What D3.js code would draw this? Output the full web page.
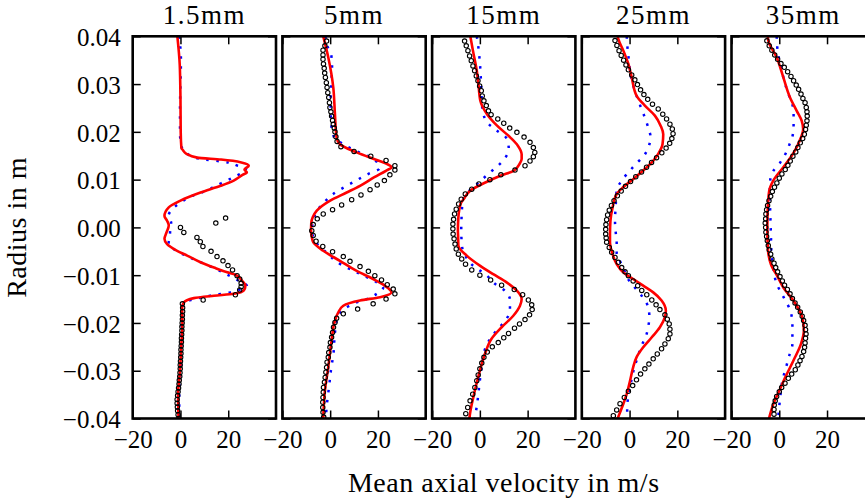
<!DOCTYPE html>
<html>
<head>
<meta charset="utf-8">
<script src="https://cdn.jsdelivr.net/npm/d3@7"></script>
<style>
  html, body { margin: 0; padding: 0; background: #ffffff; overflow: hidden; }
  svg { display: block; }
</style>
</head>
<body>
<svg id="chart" width="865" height="502"></svg>
<script>
// ---------------- DATA (radius in mm, velocity in m/s) ----------------
const panelTitles = ["1.5mm", "5mm", "15mm", "25mm", "35mm"];
const xTickValues = [-20, 0, 20];
const yTickValues = [0.04, 0.03, 0.02, 0.01, 0.00, -0.01, -0.02, -0.03, -0.04];
const xDomain = [-20, 40];
const yDomain = [-0.04, 0.04];
const MM = 0.001; // radius values below are read in millimetres

// Panel 1.5mm
const exp_1p5 = [[1.96,18.9],[0.9,14.8],[0,0],[-1.05,1.4],[-2.1,6.9],[-3.0,8.3],[-4.0,9.4],[-5.0,12.8],[-6.1,15.3],[-7.0,17.8],[-8.0,19.9],[-8.9,21.8],[-10.1,23.7],[-10.8,24.8],[-11.7,25.4],[-12.4,25.4],[-13.1,24.8],[-14.1,23.0],[-15.2,9.5],
  [-16.0,0.8],[-16.8,0.9],[-17.6,0.9],[-18.4,0.8],[-19.2,0.8],[-20.0,0.7],[-20.8,0.6],[-21.6,0.6],[-22.4,0.5],[-23.2,0.4],[-24.0,0.4],[-24.8,0.3],[-25.6,0.2],[-26.4,0.2],[-27.2,0.1],[-28.0,0.0],[-28.8,-0.1],[-29.6,-0.1],[-30.4,-0.2],[-31.2,-0.3],[-32.0,-0.5],[-32.8,-0.6],[-33.6,-0.8],[-34.4,-1.0],[-35.2,-1.2],[-36.0,-1.4],[-36.8,-1.4],[-37.6,-1.3],[-38.4,-1.2],[-39.2,-1.0],[-40.0,-0.7]];
const les_1p5 = [[40,-1.3],[34,-0.3],[27,0],[20,0.1],[16.6,0.4],[16.2,1.0],[15.4,2.5],[14.6,7.0],[14.2,17.0],[13.6,25.5],[12.9,28.6],[12.1,26.8],[11.5,27.8],[11.0,26.0],[9.8,22.3],[8.7,16.8],[7.3,8.4],[5.6,0],[4.2,-4.9],[2.4,-6.7],[1.4,-5.6],[0.4,-4.9],[-1.0,-5.8],[-2.4,-6.7],[-3.5,-5.6],[-4.9,-1.4],[-5.9,2.8],[-7.3,8.4],[-8.4,14.0],[-9.4,19.6],[-9.9,23.0],[-11.2,25.8],[-12.2,27.2],[-13.2,26.5],[-13.9,22.3],[-14.3,14.0],[-14.8,5.6],[-15.7,1.4],[-16.7,0.7],[-20,0.8],[-25,0.3],[-30,-0.2],[-35,-1.0],[-40,-0.8]];
const rans_1p5 = [[40,-0.5],[35,0.2],[30,0],[25,-0.2],[20,-0.2],[17,0.3],[16.2,1.5],[15.2,3.5],[14.4,7.7],[13.6,19.8],[12.9,24.0],[12.4,27.5],[11.5,26.0],[10.8,23.4],[9.1,16.5],[7.3,8.8],[6.6,4.9],[5.0,-0.5],[3.5,-4.0],[2.4,-5.0],[1.0,-3.9],[-0.7,-4.3],[-2.0,-4.5],[-3.5,-5.0],[-4.3,-3.5],[-5.5,0.5],[-7.0,7.0],[-8.5,14.0],[-10.0,20.0],[-11.2,24.5],[-12.2,27.8],[-13.0,25.0],[-13.6,20.8],[-14.3,12.4],[-15.2,4.2],[-16.2,1.0],[-20,0.5],[-25,0.3],[-30,0],[-35,-0.5],[-40,-0.5]];

// Panel 5mm
const exp_5 = [[39.0,-1.5],[38.0,-2.2],[37.1,-3.0],[36.1,-3.0],[35.2,-3.0],[34.2,-2.8],[33.3,-2.5],[32.3,-2.3],[31.4,-2.0],[30.3,-1.6],[29.3,-1.3],[28.2,-1.0],[27.2,-0.6],[26.1,-0.3],[25.1,-0.1],[24.2,0.3],[23.3,0.6],[22.4,1.0],[21.6,1.3],[20.8,1.7],[20.0,2.0],[19.0,2.4],[18.0,2.9],[16.9,4.5],[15.9,10.0],[14.9,17.0],[14.0,23.4],[12.9,27.1],[12.0,27.1],[11.0,25.0],[9.8,22.7],[8.9,19.7],[7.9,16.7],[6.8,12.9],[5.8,9.0],[4.7,4.8],[3.7,1.0],[2.8,-2.9],[1.8,-5.4],[0.6,-7.1],[-0.7,-7.7],[-1.7,-7.1],[-2.9,-5.9],[-4.0,-3.1],[-5.1,1.0],[-6.1,5.5],[-7.1,8.3],[-8.2,12.5],[-9.2,16.0],[-10.1,18.7],[-11.0,21.5],[-12.0,23.9],[-12.9,26.4],[-13.9,27.1],[-15.0,23.4],[-16.0,18.0],[-17.1,11.5],[-18.1,5.5],[-19.0,2.7],[-19.9,2.0],[-20.9,1.4],[-22.0,1.0],[-23.0,0.6],[-24.1,0.1],[-25.1,-0.1],[-26.2,-0.6],[-27.2,-0.8],[-28.2,-1.3],[-29.3,-1.5],[-30.3,-1.8],[-31.4,-2.1],[-32.4,-2.4],[-33.5,-2.8],[-34.5,-2.9],[-35.6,-3.0],[-36.6,-3.1],[-37.7,-3.1],[-38.7,-3.0],[-39.7,-2.7]];
const les_5 = [[40,-2.9],[35.6,-0.8],[29.3,1.3],[23.7,2.0],[18.8,2.7],[17.4,4.1],[15.7,11.1],[14.1,19.5],[13.3,23.7],[12.6,25.7],[11.9,23.5],[10.5,18.5],[8.7,12.5],[7.3,6.9],[5.6,0],[3.5,-5.6],[2.1,-7.3],[1.0,-7.9],[-0.7,-8.0],[-2.0,-7.7],[-3.1,-7.1],[-4.9,-2.9],[-7.0,4.1],[-9.1,11.1],[-10.8,18.0],[-12.2,22.9],[-13.6,25.7],[-14.6,20.9],[-15.3,12.5],[-16.4,5.5],[-17.8,3.4],[-19.5,2.0],[-23.7,0.6],[-29.3,-0.8],[-34.2,-2.2],[-40,-2.9]];
const rans_5 = [[40,-2.0],[38.0,-1.2],[35.9,0.5],[33.8,0.8],[31.4,0.6],[26.5,0.2],[22.7,0.3],[19.0,1.5],[17.0,6.9],[15.5,13.0],[14.1,18.8],[12.3,20.6],[11.3,16.4],[9.2,8.7],[7.0,1.3],[5.4,-2.2],[2.8,-6.2],[-0.7,-7.6],[-3.5,-5.4],[-5.5,-1.0],[-7.3,3.0],[-9.4,11.1],[-11.5,19.5],[-12.6,22.2],[-13.9,19.5],[-15.0,15.3],[-15.7,11.1],[-17.0,6.0],[-19.0,3.0],[-22.0,2.0],[-26.8,1.3],[-28.9,0.6],[-33.1,-0.4],[-37.7,-1.5],[-40,-1.8]];

// Panel 15mm
const exp_15 = [[39.0,-6.4],[38.0,-5.7],[37.0,-5.0],[35.9,-4.3],[34.9,-3.6],[33.8,-2.9],[32.8,-2.2],[31.7,-1.5],[30.7,-0.8],[29.6,-0.1],[28.6,0.6],[27.5,1.0],[26.5,1.7],[25.5,2.7],[24.4,3.6],[23.6,4.7],[22.7,7.5],[21.8,10.0],[20.8,12.5],[19.9,15.5],[18.9,18.5],[17.8,21.0],[16.7,22.4],[15.7,23.0],[14.8,22.4],[13.9,21.0],[12.9,18.9],[12.0,14.7],[11.0,8.8],[10.0,4.2],[9.1,-0.4],[8.0,-3.4],[7.0,-6.1],[5.9,-7.8],[4.9,-8.9],[3.8,-9.9],[2.8,-10.6],[1.7,-11.0],[0.7,-11.3],[-0.3,-11.3],[-1.4,-11.2],[-2.4,-10.8],[-3.5,-10.4],[-4.5,-9.9],[-5.6,-9.0],[-6.6,-7.6],[-7.7,-6.0],[-8.9,-3.4],[-10.0,0],[-11.0,4.5],[-12.1,9.1],[-13.0,14.4],[-14.1,17.9],[-15.2,20.3],[-16.2,21.7],[-17.2,21.9],[-18.3,20.8],[-19.3,18.9],[-20.2,16.6],[-21.1,14.5],[-22.2,12.0],[-23.1,10.0],[-24.1,7.7],[-25.0,5.2],[-26.1,3.1],[-27.2,1.7],[-28.4,0.8],[-29.6,0],[-30.9,-0.7],[-32.1,-1.3],[-33.5,-2.1],[-34.9,-3.0],[-36.3,-4.1],[-37.7,-5.1],[-39.0,-5.9]];
const les_15 = [[40,-4.0],[37.0,-2.9],[32.8,-1.3],[30,-0.6],[26.5,0.2],[23.7,3.0],[21.3,7.2],[18.8,12.8],[17.1,15.9],[15.3,17.5],[14.3,17.5],[13.2,16.5],[11.9,14.3],[10.8,8.6],[9.4,2.3],[7.7,-4.0],[5.9,-6.8],[4.9,-8.1],[2.1,-9.0],[-0.7,-9.2],[-2.0,-9.1],[-3.8,-9.0],[-5.9,-5.5],[-8.0,0],[-9.8,5.6],[-11.5,11.2],[-13.2,15.4],[-15.0,17.5],[-16.4,16.8],[-18.5,14.0],[-20.9,9.1],[-23.3,4.9],[-26.5,2.1],[-30,0],[-34.2,-2.1],[-38.3,-3.9],[-40,-4.4]];
const rans_15 = [[40,-1.3],[39.4,-1.1],[34.5,0],[30.3,0.5],[25,1.0],[22,3.0],[20.3,7.0],[18.6,11.2],[16.4,12.1],[14.4,10.4],[12.9,7.6],[11.4,4.0],[9.6,0],[7.0,-5.7],[5.0,-7.3],[2.8,-7.6],[-0.7,-7.8],[-4.2,-7.4],[-6.0,-6.0],[-7.7,-3.6],[-10.1,3.0],[-11.8,6.3],[-13.1,10.1],[-15.2,12.6],[-17.3,12.6],[-19.2,11.1],[-21.0,8.1],[-22.9,4.9],[-25.0,2.5],[-28.6,1.0],[-32,0],[-35.6,-0.8],[-39.7,-2.0],[-40,-2.1]];

// Panel 25mm
const exp_25 = [[39.1,-6.1],[38.1,-5.3],[37.0,-4.4],[36.0,-3.5],[35.0,-2.5],[34.0,-1.5],[33.0,-0.5],[31.9,0.9],[30.9,2.2],[29.9,3.3],[28.8,4.6],[27.8,6.0],[26.8,7.6],[25.8,9.6],[24.8,12.0],[23.7,13.9],[22.7,15.5],[21.6,16.9],[20.6,17.9],[19.6,18.2],[18.6,17.7],[17.6,16.8],[16.6,15.3],[15.6,13.5],[14.6,11.3],[13.6,9.2],[12.6,7.1],[11.6,5.0],[10.6,2.6],[9.6,0.4],[8.6,-1.7],[7.6,-3.5],[6.6,-5.1],[5.6,-6.5],[4.6,-7.6],[3.6,-8.5],[2.6,-9.2],[1.6,-9.6],[0.6,-9.9],[-0.4,-10.0],[-1.4,-10.0],[-2.2,-9.8],[-3.1,-9.6],[-4.2,-8.5],[-5.2,-7.5],[-6.3,-6.1],[-7.3,-4.7],[-8.4,-3.3],[-9.3,-1.9],[-10.1,-0.5],[-11.2,1.5],[-12.2,3.4],[-13.2,5.1],[-14.1,7.2],[-15.2,9.3],[-16.2,11.1],[-17.2,12.7],[-18.3,14.8],[-19.2,15.8],[-20.2,16.6],[-21.3,16.9],[-22.3,16.9],[-23.3,16.2],[-24.4,14.8],[-25.4,13.4],[-26.5,11.6],[-27.5,9.9],[-28.6,8.1],[-29.6,6.4],[-30.7,4.6],[-31.9,2.9],[-33.1,1.3],[-34.3,-0.5],[-35.6,-2.2],[-36.9,-4.0],[-38.2,-5.4],[-39.4,-6.8]];
const les_25 = [[40,-5.0],[39.4,-4.7],[37.0,-2.6],[34.2,-0.5],[31.4,0.9],[27.6,2.9],[25.5,6.4],[23.4,10.6],[21.3,13.0],[19.5,14.1],[17.4,13.8],[15.4,12.0],[13.6,9.3],[11.9,5.7],[10.1,1.5],[8.4,-2.7],[7.0,-5.4],[4.2,-7.1],[1.4,-8.0],[-1.4,-8.2],[-3.1,-8.2],[-5.6,-7.1],[-7.7,-5.4],[-9.4,-2.7],[-10.8,1.5],[-12.2,5.7],[-13.6,9.9],[-15.3,13.4],[-17.4,15.2],[-18.8,14.8],[-20.9,12.7],[-23.0,9.3],[-25.1,5.7],[-27.2,2.9],[-29.3,1.5],[-32.1,0.2],[-34.9,-1.2],[-36.9,-2.6],[-40,-5.0]];
const rans_25 = [[40,-1.2],[38.4,-1.0],[35.9,-0.5],[31.0,0.8],[27.6,2.9],[25.3,4.6],[23.0,6.4],[20.9,7.8],[18.8,8.8],[16.7,7.8],[15.0,6.0],[13.3,2.7],[11.5,-0.5],[9.8,-3.3],[7.7,-5.4],[4.5,-5.8],[1.4,-6.1],[-1.0,-5.8],[-3.1,-5.4],[-5.4,-5.4],[-7.3,-3.8],[-9.3,-2.0],[-11.2,-0.1],[-12.9,2.7],[-14.6,5.5],[-16.7,7.8],[-18.8,8.3],[-20.8,7.8],[-22.7,6.9],[-24.7,5.1],[-26.8,3.6],[-30.3,1.5],[-33.5,0.2],[-37.7,-1.0],[-40,-1.0]];

// Panel 35mm
const exp_35 = [[39.05,-5.2],[38.0,-4.2],[37.1,-3.1],[36.1,-1.9],[35.2,-0.7],[34.3,0.7],[33.5,2.1],[32.6,3.5],[31.6,4.9],[30.7,6.0],[29.8,7.1],[28.9,8.1],[27.9,9.1],[27.0,9.9],[26.1,10.8],[25.1,11.3],[24.2,11.6],[23.3,11.7],[22.3,11.6],[21.4,11.3],[20.5,11.0],[19.5,10.5],[18.6,9.8],[17.7,8.8],[16.7,7.8],[15.8,6.9],[14.9,5.7],[13.9,4.6],[13.0,3.6],[12.1,2.5],[11.2,1.1],[10.3,0],[9.3,-1.0],[8.4,-2.0],[7.5,-2.9],[6.5,-3.6],[5.6,-4.3],[4.6,-4.9],[3.7,-5.3],[2.8,-5.6],[1.8,-5.7],[0.9,-5.9],[0,-5.7],[-1.0,-5.6],[-1.9,-5.3],[-2.8,-5.0],[-3.8,-4.6],[-4.7,-4.2],[-5.6,-3.6],[-6.6,-3.1],[-7.5,-2.2],[-8.4,-1.5],[-9.3,-0.7],[-10.3,0.3],[-11.2,1.3],[-12.1,2.2],[-13.0,3.4],[-13.9,4.5],[-14.9,5.5],[-15.8,6.6],[-16.7,7.7],[-17.7,8.8],[-18.6,9.6],[-19.5,10.2],[-20.5,10.8],[-21.4,11.0],[-22.3,11.2],[-23.2,11.0],[-24.2,10.8],[-25.1,10.6],[-26.0,10.2],[-27.0,9.5],[-27.9,8.7],[-28.8,7.8],[-29.8,6.7],[-30.7,5.2],[-31.6,3.8],[-32.6,2.4],[-33.5,1.0],[-34.4,0],[-35.4,-1.1],[-36.3,-1.7],[-37.2,-2.1],[-38.1,-2.2],[-39.1,-2.2]];
const les_35 = [[40,-4.8],[39.1,-4.6],[35.6,-1.1],[31.4,1.7],[27.2,4.5],[24.4,7.3],[22.3,9.4],[20.6,10.0],[18.1,8.5],[15.4,5.7],[12.6,1.7],[9.8,-2.5],[7.7,-4.2],[4.2,-4.8],[0,-5.0],[-4.2,-4.8],[-7.7,-3.5],[-10.5,-0.5],[-12.6,1.7],[-15.3,5.9],[-18.8,9.6],[-21.6,10.3],[-24.4,9.1],[-27.9,5.9],[-31.4,2.5],[-34.2,0],[-37.0,-2.5],[-40,-4.3]];
const rans_35 = [[40,-1.1],[39.05,-1.0],[37.0,-0.7],[34.2,0.4],[30.7,2.1],[28.2,3.6],[26.1,5.3],[23.7,6.0],[21.6,6.0],[19.5,5.7],[17.4,4.3],[15.3,2.5],[13.6,0.4],[11.9,-2.4],[9.8,-3.8],[7.0,-4.0],[3.5,-3.8],[-1.4,-3.5],[-4.9,-3.3],[-8.4,-2.6],[-11.9,-1.0],[-14.6,1.8],[-17.4,4.6],[-20.2,5.5],[-24.4,5.5],[-26.8,4.2],[-29.0,3.0],[-32.1,1.3],[-35.6,0.4],[-39.1,-0.3],[-40,-0.4]];

const panelExp  = [exp_1p5, exp_5, exp_15, exp_25, exp_35];
const panelLes  = [les_1p5, les_5, les_15, les_25, les_35];
const panelRans = [rans_1p5, rans_5, rans_15, rans_25, rans_35];

// ---------------- LAYOUT ----------------
const FONT = "Liberation Serif";
const firstLeft = 132.7, panelStep = 149.7, panelW = 143.3;
const plotTop = 36.3, panelH = 382.2;
const tickLen = 8;

const svg = d3.select("#chart");
svg.append("rect").attr("width", 865).attr("height", 502).attr("fill", "#ffffff");

const x = d3.scaleLinear().domain(xDomain).range([0, panelW]);
const y = d3.scaleLinear().domain(yDomain).range([panelH, 0]);
const yFmt = d3.format(".2f");

const line = d3.line()
  .x(d => x(d[1]))
  .y(d => y(d[0] * MM))
  .curve(d3.curveMonotoneY);

svg.append("defs").append("clipPath").attr("id", "clip")
  .append("rect").attr("x", 0).attr("y", 0).attr("width", panelW).attr("height", panelH);

function styleText(sel, size) {
  sel.attr("font-family", FONT).attr("font-size", size).attr("fill", "#000");
}

panelTitles.forEach((title, i) => {
  const g = svg.append("g").attr("transform", `translate(${firstLeft + i * panelStep},${plotTop})`);

  const plot = g.append("g").attr("clip-path", "url(#clip)");

  // dotted blue series
  plot.append("path").datum(panelRans[i])
    .attr("d", line).attr("fill", "none")
    .attr("stroke", "#0000ff").attr("stroke-width", 2.5)
    .attr("stroke-dasharray", "2.5,7.5");

  // solid red series
  plot.append("path").datum(panelLes[i])
    .attr("d", line).attr("fill", "none")
    .attr("stroke", "#ff0000").attr("stroke-width", 2.6)
    .attr("stroke-linejoin", "round");

  // experiment: open circles
  plot.selectAll("circle.exp").data(panelExp[i]).join("circle")
    .attr("class", "exp")
    .attr("cx", d => x(d[1])).attr("cy", d => y(d[0] * MM))
    .attr("r", 2.2).attr("fill", "none")
    .attr("stroke", "#000000").attr("stroke-width", 1.1);

  // axes with inward ticks
  const axB = d3.axisBottom(x).tickValues(xTickValues).tickSizeInner(-tickLen).tickSizeOuter(0).tickPadding(12)
    .tickFormat(d => d3.format("d")(d));
  const axT = d3.axisTop(x).tickValues(xTickValues).tickSizeInner(-tickLen).tickSizeOuter(0).tickFormat("");
  const axL = d3.axisLeft(y).tickValues(yTickValues).tickSizeInner(-tickLen).tickSizeOuter(0).tickPadding(12)
    .tickFormat(i === 0 ? (d => yFmt(d)) : "");
  const axR = d3.axisRight(y).tickValues(yTickValues).tickSizeInner(-tickLen).tickSizeOuter(0).tickFormat("");

  const gB = g.append("g").attr("transform", `translate(0,${panelH})`).call(axB);
  const gT = g.append("g").call(axT);
  const gL = g.append("g").call(axL);
  const gR = g.append("g").attr("transform", `translate(${panelW},0)`).call(axR);

  [gB, gT, gL, gR].forEach(a => {
    a.attr("font-family", FONT).attr("font-size", 25);
    a.select(".domain").remove();
    a.selectAll(".tick line").attr("stroke", "#000").attr("stroke-width", 1.5);
    styleText(a.selectAll(".tick text"), 25);
  });
  gL.selectAll(".tick text").attr("dy", "0.37em");

  // frame
  g.append("rect").attr("x", 0).attr("y", 0).attr("width", panelW).attr("height", panelH)
    .attr("fill", "none").attr("stroke", "#000").attr("stroke-width", 2.6);

  // title
  styleText(g.append("text").attr("x", panelW / 2).attr("y", -12.5)
    .attr("text-anchor", "middle").attr("letter-spacing", 1.5).text(title), 27);
});

// axis labels
const spanCenter = firstLeft + (4 * panelStep + panelW) / 2;
styleText(svg.append("text").attr("x", spanCenter).attr("y", 491.5)
  .attr("text-anchor", "middle").attr("letter-spacing", 0.5).text("Mean axial velocity in m/s"), 28);

styleText(svg.append("text").attr("transform", `translate(26,${plotTop + panelH / 2}) rotate(-90)`)
  .attr("text-anchor", "middle").attr("letter-spacing", 0.5).text("Radius in m"), 28);
</script>
</body>
</html>
